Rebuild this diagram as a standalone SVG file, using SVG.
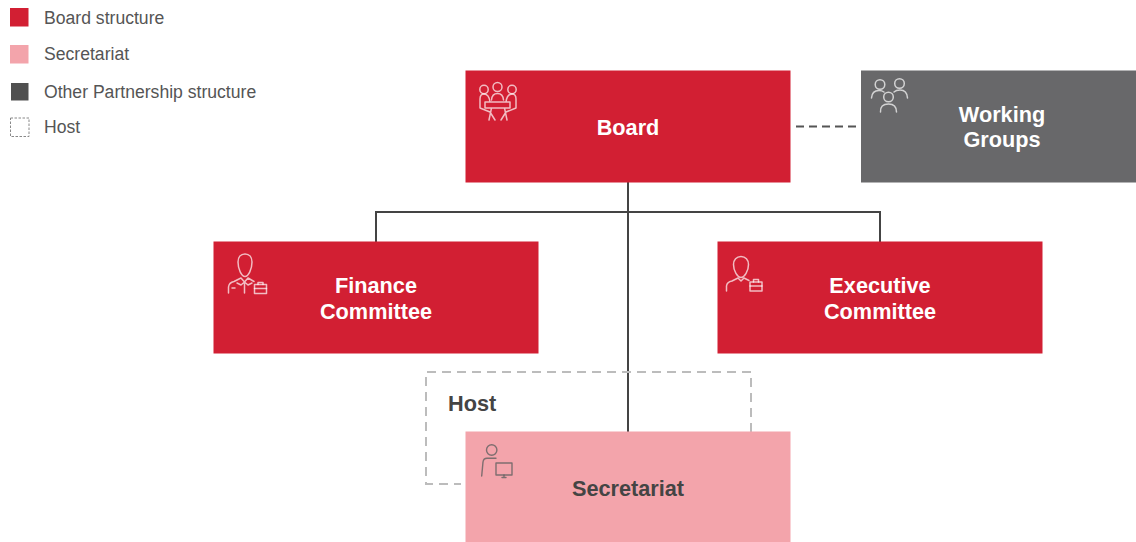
<svg xmlns="http://www.w3.org/2000/svg" width="1136" height="542" viewBox="0 0 1136 542">
<style>
text{font-family:"Liberation Sans",Arial,sans-serif}
.lg{font-size:17.6px;fill:#555}
.t{font-size:21.7px;font-weight:700;text-anchor:middle;fill:#fff}
.i{fill:none;stroke:#fff;stroke-opacity:.7;stroke-width:1.5;stroke-linecap:round;stroke-linejoin:round}
.d{fill:none;stroke:#606060;stroke-opacity:.8;stroke-width:1.4;stroke-linecap:round;stroke-linejoin:round}
.red{fill:#d21f33}
.c{fill:none;stroke:#444;stroke-width:2}
</style>
<rect width="1136" height="542" fill="#fff"/>
<g id="legend">
<rect class="red" x="10" y="8" width="18.500" height="18.500"/>
<text class="lg" x="44" y="23.500">Board structure</text>
<rect x="10" y="45" width="18.500" height="18.500" fill="#f3a4ab"/>
<text class="lg" x="44" y="60">Secretariat</text>
<rect x="11" y="83" width="17.500" height="17.500" fill="#505050"/>
<text class="lg" x="44" y="98">Other Partnership structure</text>
<rect x="10.500" y="118" width="18.500" height="18.500" fill="none" stroke="#888" stroke-width="1" stroke-dasharray="2.500 1.500"/>
<text class="lg" x="44" y="133">Host</text>
</g>
<g id="connectors">
<path class="c" d="M628 182V432M376 242V212H880V242"/>
<path d="M796 126.500H861" fill="none" stroke="#555" stroke-width="2" stroke-dasharray="8 5"/>
<path d="M751 432V372H426V484H461" fill="none" stroke="#bcbcbc" stroke-width="2" stroke-dasharray="9 6"/>
</g>
<g id="board">
<rect class="red" x="465.500" y="70.500" width="325" height="112"/>
<circle class="i" cx="484" cy="89.500" r="4.200"/><circle class="i" cx="497.500" cy="87" r="4.500"/><circle class="i" cx="512" cy="89.500" r="4.200"/>
<path class="i" d="M491.500 100Q492 93.500 497.500 93.500Q503 93.500 503.500 100M485 102H510M485 108H510M480 108V99Q480 94 484 94Q489 94 490 102M516 108V99Q516 94 512 94Q507 94 506 102M485 102V108M510 102V108M480 108L490 112L495 120M516 108L506 112L501 120M491.500 108L489 120M504.500 108L507 120"/>
<text class="t" x="628" y="134.500">Board</text>
</g>
<g id="working-groups">
<rect x="861" y="70.500" width="275" height="112" fill="#68686a"/>
<circle class="i" cx="880" cy="84.500" r="4.800"/><circle class="i" cx="899.500" cy="83.500" r="4.800"/><circle class="i" cx="888.500" cy="97" r="4.800"/>
<path class="i" d="M871.500 98Q872 90.500 879 90.500Q882 90.500 884 92M907.500 98Q907 90 900 90Q896 90 894 92M880.500 112Q880 104 888.500 104Q896.500 104 896.500 112"/>
<text class="t" x="1002" y="122">Working</text>
<text class="t" x="1002" y="147">Groups</text>
</g>
<g id="finance-committee">
<rect class="red" x="213.500" y="241.500" width="325" height="112"/>
<path class="i" d="M245 254C240.500 254 238 257.500 238 262C238 269 241.500 276.500 245 276.500C248.500 276.500 252 269 252 262C252 257.500 249.500 254 245 254ZM228.500 293V287Q229 282.500 234 281.500L241 278L244.500 282L248 278L254 281.500M244.500 282V293M237 283L241 285L244.500 282L248 285L252 283M232 288H235"/>
<rect class="i" x="254.500" y="284.500" width="12" height="9"/><path class="i" d="M258 284.500V282.500H263V284.500M254.500 288.500H266.500"/>
<text class="t" x="376" y="293">Finance</text>
<text class="t" x="376" y="318.500">Committee</text>
</g>
<g id="executive-committee">
<rect class="red" x="717.500" y="241.500" width="325" height="112"/>
<path class="i" d="M741 256.500C736.500 256.500 733.500 260 733.500 264.500C733.500 271 737.500 277.500 741 277.500C744.500 277.500 748.500 271 748.500 264.500C748.500 260 745.500 256.500 741 256.500ZM726.500 291V286Q727 282 732 281L738 278L741 281L744 278L749 280.500"/>
<rect class="i" x="750" y="282" width="12" height="9"/><path class="i" d="M753.500 282V279.500H758.500V282M750 286H762"/>
<text class="t" x="880" y="293">Executive</text>
<text class="t" x="880" y="318.500">Committee</text>
</g>
<g id="secretariat">
<rect x="465.500" y="431.500" width="325" height="110.500" fill="#f3a4ab"/>
<circle class="d" cx="491.700" cy="450" r="5.200"/>
<path class="d" d="M481.700 476L483 462Q483.500 458.300 487 458.300L496 458.300"/>
<rect class="d" x="496" y="463" width="16" height="12"/><path class="d" d="M504 475V477.500M502 477.500H506"/>
<text class="t" x="628" y="495.500" style="fill:#444">Secretariat</text>
</g>
<g id="host">
<text x="448" y="411" style="font-size:21.700px;font-weight:700;fill:#444">Host</text>
</g>
</svg>
